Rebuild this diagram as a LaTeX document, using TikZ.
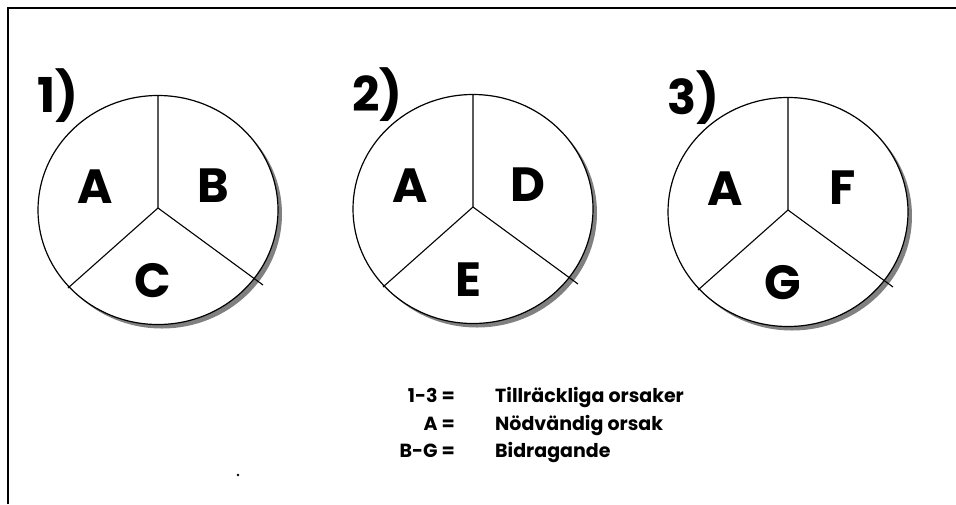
\documentclass[tikz,border=0pt]{standalone}
\usepackage{fontspec}
\setmainfont{Poppins}
\begin{document}
\begin{tikzpicture}[x=1pt,y=-1pt,
  pie/.style={draw=black,line width=1.2pt,fill=white},
  pieshadow/.style={fill=black!50,draw=none},
  spoke/.style={draw=black,line width=1.1pt},
  numlabel/.style={anchor=base west,inner sep=0pt,font=\bfseries\fontsize{48}{52}\selectfont},
  seglabel/.style={inner sep=0pt,font=\bfseries\fontsize{48}{52}\selectfont},
  keyleft/.style={anchor=base east,inner sep=0pt,font=\bfseries\fontsize{19}{22}\selectfont},
  keyright/.style={anchor=base west,inner sep=0pt,font=\bfseries\fontsize{19}{22}\selectfont}]
\useasboundingbox (0,0) rectangle (956,504);

% frame: top and left edges only
\draw[line width=1.6pt] (8,504) -- (8,8) -- (956,8);

% three pies: centre x, centre y, and labels
\foreach \cx/\cy/\n/\ll/\rl/\bl [count=\i] in
  {158/210/1/A/B/C, 473/209/2/A/D/E, 788/212/3/A/F/G} {
  \fill[pieshadow] (\cx+4,\cy+4) ellipse [x radius=120, y radius=114.5];
  \draw[pie] (\cx,\cy) ellipse [x radius=120, y radius=114.5];
  \coordinate (hub\i) at (\cx,\cy-2);
  \coordinate (top\i) at (\cx,\cy-114);
  \coordinate (sw\i) at (\cx-90,\cy+78);
  \coordinate (se\i) at (\cx+105,\cy+75);
  \draw[spoke] (top\i) -- (hub\i) -- (sw\i);
  \draw[spoke] (hub\i) -- (se\i);
  \node[numlabel] (num\i) at (\cx-121,\cy-98) {\n)};
  \node[seglabel] (segl\i) at (\cx-63,\cy-23) {\ll};
  \node[seglabel] (segr\i) at (\cx+55,\cy-24) {\rl};
  \node[seglabel] (segb\i) at (\cx-5,\cy+71) {\bl};
}

% key
\node[keyleft]  (k1) at (455,402) {1-3 =};
\node[keyleft]  (k2) at (455,430) {A =};
\node[keyleft]  (k3) at (455,457) {B-G =};
\node[keyright] (t1) at (495,402) {Tillräckliga orsaker};
\node[keyright] (t2) at (495,430) {Nödvändig orsak};
\node[keyright] (t3) at (495,457) {Bidragande};

% stray dot
\fill (238,475) circle [radius=1.3];
\end{tikzpicture}
\end{document}
